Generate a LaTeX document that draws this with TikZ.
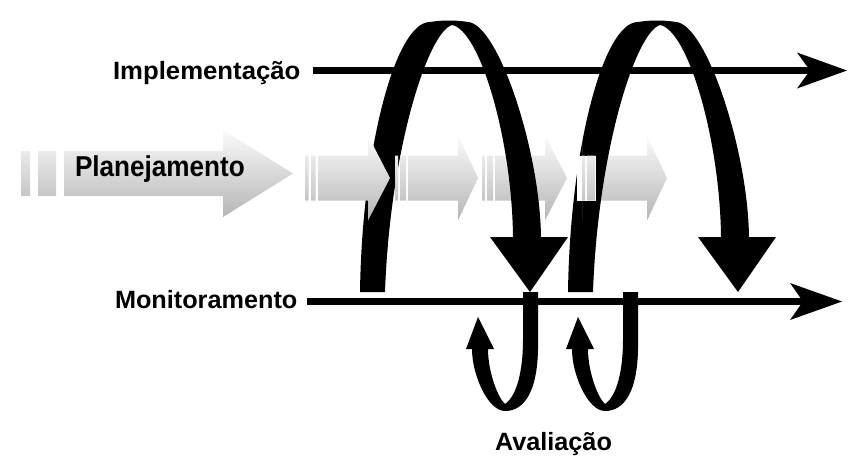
\documentclass[tikz,border=0pt]{standalone}
\usepackage{fontspec}
\setmainfont{Liberation Sans}
\begin{document}
\begin{tikzpicture}[x=1pt,y=-1pt,
  lbl/.style={font=\bfseries\fontsize{25}{30}\selectfont, inner sep=0pt, outer sep=0pt},
  hline/.style={line width=7.5pt},
  gshade/.style={top color=gray!3, bottom color=gray!58, draw=none},
  ribbon/.style={fill=black, draw=none}]
\useasboundingbox (0,0) rectangle (865,474);

% --- gray arrows lying under the loops ---
% arrow 4
\shade[gshade] (482,155.5) rectangle (485,200.5) (487,155.5) rectangle (493,200.5)
  (495,155.5) -- (545,155.5) -- (545,135.5) -- (567,178) -- (545,220.5) -- (545,200.5) -- (495,200.5) -- cycle;
% arrow 5 body
\shade[gshade] (597,155.5) -- (647,155.5) -- (647,135.5) -- (667,178) -- (647,220.5) -- (647,200.5) -- (597,200.5) -- cycle;

% --- big loops ---
\foreach \dx in {0,208}{
\begin{scope}[xshift=\dx pt]
\fill[ribbon] (360,292) .. controls (362,150) and (395,22) .. (430,22)
  .. controls (442,20) and (456,20) .. (468,22)
  .. controls (498,24) and (540,150) .. (541,237)
  -- (568,237) -- (530,292) -- (490,237) -- (513,237)
  .. controls (512,140) and (480,30) .. (452,25)
  .. controls (428,32) and (390,150) .. (385,292) -- cycle;
\end{scope}}

% --- small loops (Avaliacao) ---
\foreach \dx in {0,100}{
\begin{scope}[xshift=\dx pt]
\fill[ribbon] (523,292) -- (538,292) -- (538,340)
  .. controls (539,390) and (525,411) .. (505,411)
  .. controls (488,411) and (472,375) .. (472,349)
  -- (466,349) -- (478,317) -- (494,349) -- (488,349)
  .. controls (488,372) and (498,398) .. (505,404)
  .. controls (517,396) and (523,370) .. (523,340) -- cycle;
\end{scope}}

% --- gray arrows lying over the loops ---
% arrow 1
\shade[gshade] (21,151) rectangle (30,196) (38,151) rectangle (56,196)
  (64,151) -- (223,151) -- (223,130) -- (293,173.5) -- (223,217) -- (223,196) -- (64,196) -- cycle;
% arrow 2
\shade[gshade] (305,155.5) rectangle (308.5,200.5) (311,155.5) rectangle (315.5,200.5)
  (318,155.5) -- (368,155.5) -- (368,135.5) -- (390,178) -- (368,220.5) -- (368,200.5) -- (318,200.5) -- cycle;
% arrow 3
\shade[gshade] (395,155.5) rectangle (398,200.5) (400,155.5) rectangle (406,200.5)
  (408,155.5) -- (458,155.5) -- (458,135.5) -- (478,178) -- (458,220.5) -- (458,200.5) -- (408,200.5) -- cycle;
% arrow 5 bars
\fill[white] (577,155.5) rectangle (596,200.5);
\shade[gshade] (582,135.5) rectangle (582.01,220.5) (582,155.5) rectangle (585,200.5) (587,155.5) rectangle (595,200.5);

% --- labels ---
\node[lbl, anchor=base west] (impl) at (113,79) {\scalebox{1.03}[1]{Implementação}};
\node[lbl, anchor=base west] (plan) at (75,176) {\scalebox{1.045}[1.15]{Planejamento}};
\node[lbl, anchor=base west] (mon) at (115,308) {\scalebox{1.01}[1]{Monitoramento}};
\node[lbl, anchor=base west] (aval) at (495,450) {\scalebox{1.01}[1]{Avaliação}};

% --- horizontal arrows ---
\coordinate (implA) at (313,70.5);
\coordinate (implB) at (847,70.5);
\coordinate (monA) at (307,301.5);
\coordinate (monB) at (842,301.5);
\draw[hline] (implA) -- ([xshift=-36pt]implB);
\fill (implB) -- ([xshift=-50pt,yshift=18pt]implB) -- ([xshift=-37pt]implB)
  -- ([xshift=-50pt,yshift=-18pt]implB) -- cycle;
\draw[hline] (monA) -- ([xshift=-38pt]monB);
\fill (monB) -- ([xshift=-52pt,yshift=18.5pt]monB) -- ([xshift=-39pt]monB)
  -- ([xshift=-52pt,yshift=-18.5pt]monB) -- cycle;
\end{tikzpicture}
\end{document}
